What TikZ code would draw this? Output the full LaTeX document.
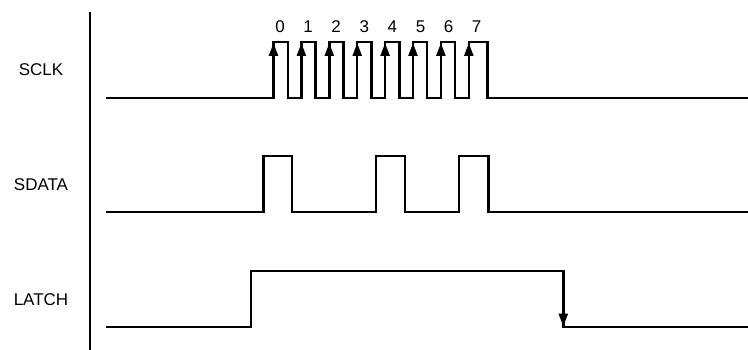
\documentclass[tikz,border=0pt]{standalone}
\usepackage{fontspec}
\setmainfont{Liberation Sans}
\usetikzlibrary{arrows.meta}
\begin{document}
\begin{tikzpicture}[x=1pt,y=-1pt,
  wave/.style={line width=2.4pt,line join=miter,line cap=butt},
  edgearrow/.style={line width=2.4pt,-{Triangle[length=13pt,width=9pt]}},
  siglabel/.style={font=\fontsize{17}{20}\selectfont,anchor=center,inner sep=0pt},
  bitlabel/.style={font=\fontsize{17}{20}\selectfont,anchor=center,inner sep=0pt}]
\useasboundingbox (0,0) rectangle (748,350);
% axis
\coordinate (axtop) at (90,12);
\coordinate (axbot) at (90,350);
\draw[line width=2.4pt] (axtop) -- (axbot);
% labels
\node[siglabel] (sclk) at (41,70) {SCLK};
\node[siglabel] (sdata) at (41,185) {SDATA};
\node[siglabel] (latch) at (41,300) {LATCH};
% SCLK waveform
\draw[wave] (106,98) -- (273.5,98)
  \foreach \k in {0,...,6} {
    -- ({273.5+27.9*\k},98) -- ({273.5+27.9*\k},42) -- ({287.7+27.9*\k},42) -- ({287.7+27.9*\k},98)
  }
  -- (468.8,98) -- (468.8,42) -- (487.5,42) -- (487.5,98) -- (748,98);
\foreach \k in {0,...,7} {
  \draw[edgearrow] ({273.5+27.9*\k},75) -- ({273.5+27.9*\k},43);
  \node[bitlabel] (b\k) at ({280+28.1*\k},27) {\k};
}
% SDATA waveform
\draw[wave] (106,212) -- (263.3,212) -- (263.3,156) -- (292,156) -- (292,212)
  -- (375.7,212) -- (375.7,156) -- (404.7,156) -- (404.7,212)
  -- (459,212) -- (459,156) -- (488.3,156) -- (488.3,212) -- (748,212);
% LATCH waveform
\draw[wave] (106,327) -- (250.7,327) -- (250.7,271) -- (563.3,271) -- (563.3,327) -- (748,327);
\draw[edgearrow] (563.3,295) -- (563.3,326.5);
\end{tikzpicture}
\end{document}
